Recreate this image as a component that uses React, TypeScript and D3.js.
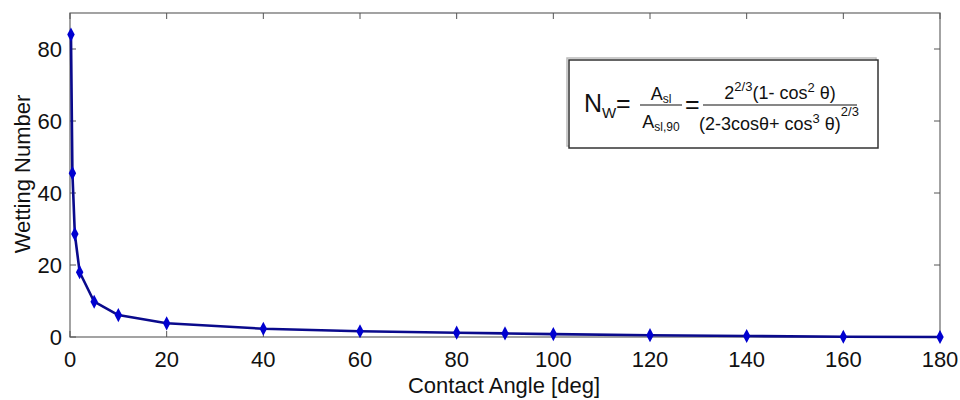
import React, { useEffect } from "react";
import * as d3 from "d3";

const angles = [0.2, 0.5, 1, 2, 5, 10, 20, 40, 60, 80, 90, 100, 120, 140, 160, 180];
const wetting = [84, 45.5, 28.6, 18, 9.8, 6.1, 3.8, 2.3, 1.6, 1.2, 1.0, 0.8, 0.5, 0.27, 0.07, 0];
const xTicks = [0, 20, 40, 60, 80, 100, 120, 140, 160, 180];
const yTicks = [0, 20, 40, 60, 80];

const W = 960, H = 400;
const L = 70, R = 940, T = 13, B = 337;
const FONT = "'Liberation Sans', Arial, Helvetica, sans-serif";

export default function App() {
  useEffect(() => {
    document.body.style.margin = "0";
  }, []);
  const x = d3.scaleLinear().domain([0, 180]).range([L, R]);
  const y = d3.scaleLinear().domain([0, 90]).range([B, T]);
  const pts = angles.map((a, i) => [a, wetting[i]] as [number, number]);
  const line = d3.line<[number, number]>().x(d => x(d[0])).y(d => y(d[1]));
  const diamond = d3.symbol().type(d3.symbolDiamond).size(48)();
  const tl = 6;
  return (
    <svg width={W} height={H} style={{ display: "block", background: "#fff" }} fontFamily={FONT}>
      <rect x={L} y={T} width={R - L} height={B - T} fill="none" stroke="#666" strokeWidth={1.2} />
      {yTicks.map(t => (
        <g key={"y" + t}>
          <line x1={L} x2={L + tl} y1={y(t)} y2={y(t)} stroke="#555" />
          <line x1={R} x2={R - tl} y1={y(t)} y2={y(t)} stroke="#555" />
          <text x={L - 8} y={y(t)} dy="0.36em" textAnchor="end" fontSize={22} fill="#111">{t}</text>
        </g>
      ))}
      {xTicks.map(t => (
        <g key={"x" + t}>
          <line x1={x(t)} x2={x(t)} y1={B} y2={B - tl} stroke="#555" />
          <line x1={x(t)} x2={x(t)} y1={T} y2={T + tl} stroke="#555" />
          <text x={x(t)} y={367} textAnchor="middle" fontSize={22} fill="#111">{t}</text>
        </g>
      ))}
      <text x={504} y={393} textAnchor="middle" fontSize={22} fill="#111">Contact Angle [deg]</text>
      <text transform="translate(30,174) rotate(-90)" textAnchor="middle" fontSize={22} fill="#111">Wetting Number</text>

      <path d={line(pts) || ""} fill="none" stroke="#0a0a8c" strokeWidth={2.6} strokeLinejoin="round" />
      {pts.map((p, i) => (
        <path key={i} d={diamond || ""} transform={`translate(${x(p[0])},${y(p[1])}) scale(1,1.1)`} fill="#0000d0" />
      ))}

      {/* formula box */}
      <rect x={567} y={58} width={309} height={88} fill="none" stroke="#bbb" strokeWidth={1.5} />
      <rect x={569} y={60} width={309} height={88} fill="#fff" stroke="#333" strokeWidth={1.5} />
      <g fill="#111">
        <text x={584} y={112} fontSize={25}>N</text>
        <text x={602} y={118} fontSize={15}>W</text>
        <text x={616} y={112} fontSize={25}>=</text>

        <text x={661} y={100} textAnchor="middle" fontSize={18}>A<tspan fontSize={12} dy={3}>sl</tspan></text>
        <line x1={640} x2={682} y1={105} y2={105} stroke="#111" strokeWidth={1.2} />
        <text x={661} y={128} textAnchor="middle" fontSize={18}>A<tspan fontSize={12} dy={3}>sl,90</tspan></text>

        <text x={685} y={113} fontSize={25}>=</text>

        <text x={780} y={99} textAnchor="middle" fontSize={18}>2<tspan fontSize={13} dy={-8}>2/3</tspan><tspan dy={8}>(1- cos</tspan><tspan fontSize={13} dy={-7}>2</tspan><tspan dy={7}> θ)</tspan></text>
        <line x1={703} x2={857} y1={105} y2={105} stroke="#111" strokeWidth={1.2} />
        <text x={779} y={130} textAnchor="middle" fontSize={18}>(2-3cosθ+ cos<tspan fontSize={13} dy={-7}>3</tspan><tspan dy={7}> θ)</tspan><tspan fontSize={13} dy={-14}>2/3</tspan></text>
      </g>
    </svg>
  );
}
